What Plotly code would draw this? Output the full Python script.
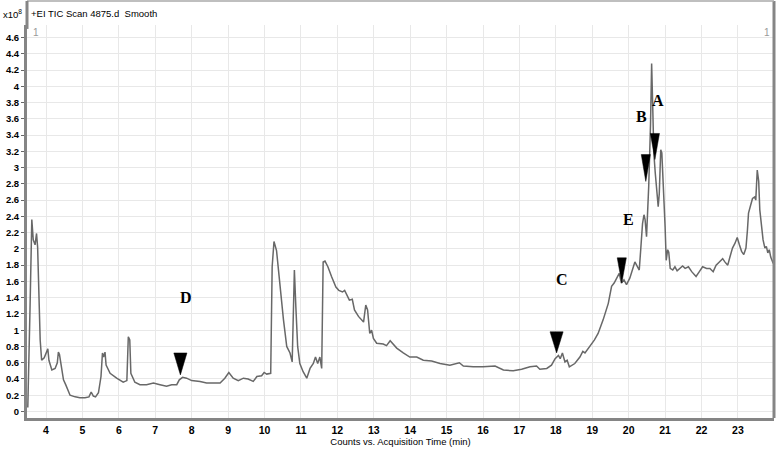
import plotly.graph_objects as go

# ---- data (time in min, counts in units of 1e8) ----
time_min = [3.50, 3.53, 3.56, 3.61, 3.65, 3.70, 3.74, 3.77, 3.81, 3.84, 3.88, 3.95, 4.05, 4.08, 4.16,
            4.25, 4.31, 4.34, 4.37, 4.41, 4.48, 4.54, 4.60, 4.66, 4.80, 4.93, 5.07, 5.18, 5.24, 5.30,
            5.36, 5.44, 5.51, 5.55, 5.58, 5.62, 5.65, 5.76, 5.94, 6.12, 6.22, 6.26, 6.30, 6.33, 6.44,
            6.58, 6.76, 6.95, 7.13, 7.31, 7.45, 7.59, 7.66, 7.75, 7.86, 8.00, 8.23, 8.41, 8.59, 8.78,
            8.91, 9.02, 9.14, 9.28, 9.42, 9.55, 9.69, 9.79, 9.92, 9.99, 10.06, 10.17, 10.21, 10.26,
            10.33, 10.40, 10.45, 10.52, 10.61, 10.70, 10.76, 10.82, 10.86, 10.91, 10.97, 11.06, 11.16,
            11.25, 11.34, 11.40, 11.46, 11.52, 11.57, 11.61, 11.66, 11.74, 11.84, 11.96, 12.04, 12.14,
            12.20, 12.26, 12.33, 12.41, 12.47, 12.58, 12.72, 12.78, 12.83, 12.89, 12.94, 12.99, 13.08,
            13.26, 13.35, 13.45, 13.63, 13.81, 13.99, 14.18, 14.36, 14.59, 14.82, 15.09, 15.35, 15.46,
            15.73, 16.00, 16.33, 16.56, 16.83, 17.06, 17.29, 17.47, 17.56, 17.75, 17.88, 17.98, 18.07,
            18.12, 18.18, 18.25, 18.31, 18.37, 18.52, 18.66, 18.74, 18.80, 18.94, 19.06, 19.16, 19.30,
            19.44, 19.53, 19.60, 19.67, 19.74, 19.80, 19.87, 19.94, 20.03, 20.17, 20.24, 20.29, 20.33,
            20.38, 20.42, 20.45, 20.49, 20.52, 20.55, 20.60, 20.63, 20.66, 20.69, 20.73, 20.77, 20.81,
            20.84, 20.88, 20.91, 20.95, 21.00, 21.03, 21.07, 21.10, 21.14, 21.21, 21.27, 21.33, 21.41,
            21.48, 21.55, 21.64, 21.73, 21.85, 21.94, 22.03, 22.14, 22.23, 22.32, 22.40, 22.49, 22.58,
            22.64, 22.72, 22.78, 22.85, 22.92, 22.98, 23.04, 23.10, 23.16, 23.22, 23.26, 23.29, 23.35,
            23.40, 23.46, 23.49, 23.53, 23.57, 23.60, 23.65, 23.69, 23.74, 23.78, 23.82, 23.86, 23.90,
            23.97]
counts_e8 = [0.05, 0.55, 1.25, 2.36, 2.11, 2.05, 2.19, 2.02, 1.16, 0.88, 0.63, 0.66, 0.77, 0.63, 0.51,
             0.53, 0.60, 0.73, 0.70, 0.60, 0.39, 0.33, 0.26, 0.20, 0.18, 0.17, 0.17, 0.18, 0.24, 0.19,
             0.18, 0.23, 0.43, 0.72, 0.67, 0.73, 0.57, 0.47, 0.41, 0.36, 0.38, 0.92, 0.88, 0.47, 0.36,
             0.33, 0.33, 0.35, 0.33, 0.31, 0.33, 0.33, 0.39, 0.42, 0.41, 0.38, 0.37, 0.35, 0.35, 0.35,
             0.41, 0.48, 0.41, 0.38, 0.41, 0.40, 0.37, 0.43, 0.44, 0.48, 0.46, 0.47, 1.78, 2.09,
             1.98, 1.66, 1.50, 1.13, 0.80, 0.72, 0.61, 1.74, 1.29, 0.80, 0.59, 0.49, 0.41,
             0.53, 0.59, 0.67, 0.59, 0.67, 0.53, 1.84, 1.85, 1.78, 1.66, 1.53, 1.49, 1.47,
             1.49, 1.43, 1.37, 1.38, 1.25, 1.17, 1.10, 1.31, 1.25, 0.96, 1.00, 0.90, 0.84,
             0.83, 0.81, 0.87, 0.78, 0.72, 0.67, 0.67, 0.63, 0.62, 0.59, 0.57, 0.60, 0.56,
             0.55, 0.55, 0.56, 0.51, 0.50, 0.52, 0.55, 0.56, 0.52, 0.53, 0.57, 0.65, 0.69,
             0.65, 0.72, 0.61, 0.63, 0.55, 0.59, 0.67, 0.74, 0.72, 0.80, 0.88, 0.96, 1.13,
             1.33, 1.54, 1.58, 1.64, 1.70, 1.58, 1.62, 1.56, 1.64, 1.84, 1.78, 1.74, 1.99,
             2.31, 2.42, 2.36, 2.15, 2.44, 2.77, 3.54, 4.28, 3.75, 3.18, 2.93, 2.68, 2.52,
             2.68, 3.22, 3.18, 2.85, 2.27, 1.86, 1.99, 1.96, 1.76, 1.74, 1.78, 1.73, 1.76,
             1.79, 1.76, 1.78, 1.72, 1.66, 1.72, 1.78, 1.76, 1.76, 1.72, 1.80, 1.84, 1.88,
             1.84, 1.80, 1.90, 2.01, 2.07, 2.14, 2.05, 1.97, 1.93, 2.01, 2.23, 2.44, 2.54,
             2.62, 2.64, 2.60, 2.97, 2.83, 2.48, 2.23, 2.11, 2.01, 2.03, 1.95, 1.99, 1.90,
             1.82]

x_ticks = list(range(4, 24))
y_ticks = [round(i * 0.2, 1) for i in range(0, 24)]
y_ticktext = [("%g" % v) for v in y_ticks]

# marker annotations: triangle tip positions and letter positions
tri_x = [7.69, 18.02, 19.81, 20.47, 20.72]
tri_y = [0.45, 0.72, 1.58, 2.83, 3.10]
label_text = ["D", "C", "E", "B", "A"]
label_x = [7.84, 18.16, 19.99, 20.34, 20.81]
label_y = [1.40, 1.62, 2.36, 3.63, 3.83]

# ---- style ----
TRI_HALF_W = [0.18, 0.18, 0.125, 0.125, 0.125]   # x units
TRI_H = [0.27, 0.26, 0.31, 0.33, 0.32]            # y units
FONT = "Liberation Sans, Arial, sans-serif"
XR = [3.478, 23.99]
YR = [-0.08, 4.754]
FRAME = "#858585"

fig = go.Figure()
fig.add_trace(go.Scatter(x=time_min, y=counts_e8, mode="lines",
                         line=dict(color="#686868", width=1.5), hoverinfo="skip",
                         showlegend=False))

for tx, ty, hw, h in zip(tri_x, tri_y, TRI_HALF_W, TRI_H):
    fig.add_trace(go.Scatter(x=[tx - hw, tx + hw, tx, tx - hw],
                             y=[ty + h, ty + h, ty, ty + h],
                             mode="lines", fill="toself", fillcolor="black",
                             line=dict(color="black", width=0.5), showlegend=False,
                             hoverinfo="skip"))

for t, lx, ly in zip(label_text, label_x, label_y):
    fig.add_annotation(x=lx, y=ly, text="<b>%s</b>" % t, showarrow=False,
                       font=dict(family="Liberation Serif, Times New Roman, serif", size=16,
                                 color="black"))

# header texts (paper coordinates)
fig.add_annotation(xref="paper", yref="paper", x=0.003, y=1.029, xanchor="left", yanchor="middle",
                   text="+EI TIC Scan 4875.d  Smooth", showarrow=False,
                   font=dict(family=FONT, size=9.5, color="black"))
fig.add_annotation(xref="paper", yref="paper", x=-0.035, y=1.029, xanchor="left", yanchor="middle",
                   text="x10<sup>8</sup>", showarrow=False,
                   font=dict(family=FONT, size=9.5, color="black"))
fig.add_annotation(xref="paper", yref="paper", x=0.005, y=0.982, xanchor="left", yanchor="middle",
                   text="1", showarrow=False, font=dict(family=FONT, size=10, color="#999999"))
fig.add_annotation(xref="paper", yref="paper", x=0.997, y=0.982, xanchor="right", yanchor="middle",
                   text="1", showarrow=False, font=dict(family=FONT, size=10, color="#999999"))

# frame: right and top borders, left border extension over the header
fig.add_shape(type="line", xref="paper", yref="paper", x0=1, x1=1, y0=0, y1=1.061,
              line=dict(color=FRAME, width=3), layer="above")
fig.add_shape(type="line", xref="paper", yref="paper", x0=0, x1=1, y0=1.061, y1=1.061,
              line=dict(color="#aaaaaa", width=1.5), layer="above")
fig.add_shape(type="line", xref="paper", yref="paper", x0=0, x1=0, y0=0.99, y1=1.061,
              line=dict(color=FRAME, width=3), layer="above")

fig.update_layout(
    width=778, height=452,
    margin=dict(l=27, r=4, t=25, b=34, autoexpand=False),
    paper_bgcolor="white", plot_bgcolor="white",
    font=dict(family=FONT, size=10, color="black"),
    xaxis=dict(range=XR, tickvals=x_ticks, ticktext=[str(v) for v in x_ticks],
               showgrid=True, gridcolor="#e8e8e8", gridwidth=1, zeroline=False,
               showline=True, linecolor=FRAME, linewidth=3, ticks="", automargin=False,
               tickfont=dict(family=FONT, size=10.5, color="black", weight="bold"),
               title=dict(text="Counts vs. Acquisition Time (min)", standoff=0,
                          font=dict(family=FONT, size=9.5, color="black"))),
    yaxis=dict(range=YR, tickvals=y_ticks, ticktext=y_ticktext, automargin=False,
               showgrid=True, gridcolor="#e8e8e8", gridwidth=1, zeroline=False,
               showline=True, linecolor=FRAME, linewidth=3,
               ticks="outside", ticklen=3, tickcolor="#666666",
               tickfont=dict(family=FONT, size=9.5, color="black", weight="bold")),
)

fig.write_html("out.html", config={"displayModeBar": False},
               post_script="document.body.style.margin='0px';")
